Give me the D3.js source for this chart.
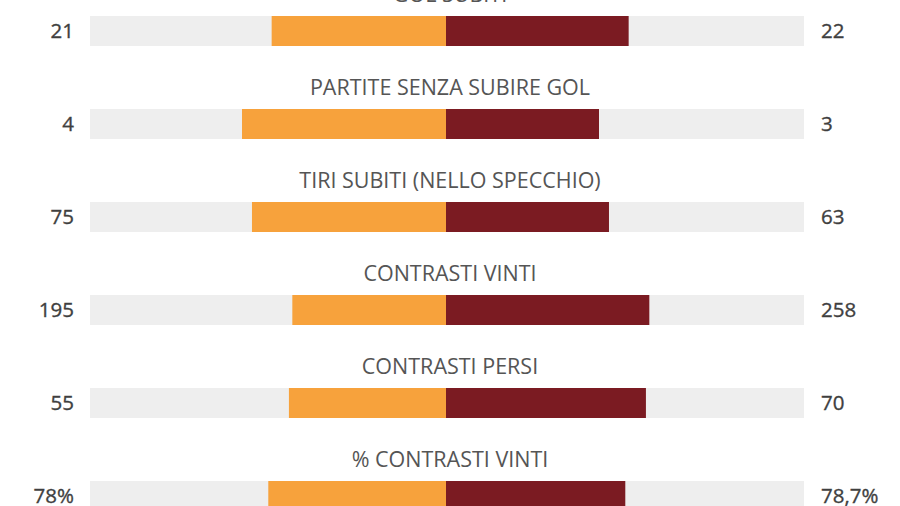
<!DOCTYPE html>
<html><head><meta charset="utf-8">
<script src="https://cdn.jsdelivr.net/npm/d3@7"></script>
<style>html,body{margin:0;padding:0;background:#fff;overflow:hidden}</style>
</head><body>
<svg id="c" width="900" height="506"></svg>
<script>
const categories = ["GOL SUBITI","PARTITE SENZA SUBIRE GOL","TIRI SUBITI (NELLO SPECCHIO)","CONTRASTI VINTI","CONTRASTI PERSI","% CONTRASTI VINTI"];
const leftValues = [21,4,75,195,55,78];
const rightValues = [22,3,63,258,70,78.7];
const leftLabels = ["21","4","75","195","55","78%"];
const rightLabels = ["22","3","63","258","70","78,7%"];

const svg = d3.select("#c");
const center = 446, greyL = 90, greyR = 804, half = 357, barH = 30;
const rowTop = d3.scaleLinear().domain([0,1]).range([16,109]);
const share = d3.scaleLinear().domain([0,1]).range([0, half]);
const lShare = i => share(leftValues[i]/(leftValues[i]+rightValues[i]));
const rShare = i => share(rightValues[i]/(leftValues[i]+rightValues[i]));

const g = svg.selectAll("g.row").data(categories).join("g").attr("class","row");
g.append("rect").attr("x",greyL).attr("y",(d,i)=>rowTop(i)).attr("width",greyR-greyL).attr("height",barH).attr("fill","#eeeeee");
g.append("rect").attr("x",(d,i)=>center - lShare(i)).attr("y",(d,i)=>rowTop(i))
  .attr("width",(d,i)=>lShare(i)).attr("height",barH).attr("fill","#f7a23c");
g.append("rect").attr("x",center).attr("y",(d,i)=>rowTop(i))
  .attr("width",(d,i)=>rShare(i)).attr("height",barH).attr("fill","#7b1b22");
g.append("text").attr("x",450).attr("y",(d,i)=>rowTop(i)-14).attr("text-anchor","middle")
  .attr("font-family","Open Sans").attr("font-size",21.5).attr("fill","#555555").text(d=>d);
g.append("text").attr("x",74).attr("y",(d,i)=>rowTop(i)+barH/2).attr("dy","0.36em").attr("text-anchor","end")
  .attr("font-family","Open Sans").attr("font-size",20.5).attr("fill","#3f3f3f")
  .attr("stroke","#3f3f3f").attr("stroke-width",0.35).text((d,i)=>leftLabels[i]);
g.append("text").attr("x",821).attr("y",(d,i)=>rowTop(i)+barH/2).attr("dy","0.36em").attr("text-anchor","start")
  .attr("font-family","Open Sans").attr("font-size",20.5).attr("fill","#3f3f3f")
  .attr("stroke","#3f3f3f").attr("stroke-width",0.35).text((d,i)=>rightLabels[i]);
</script>
</body></html>
